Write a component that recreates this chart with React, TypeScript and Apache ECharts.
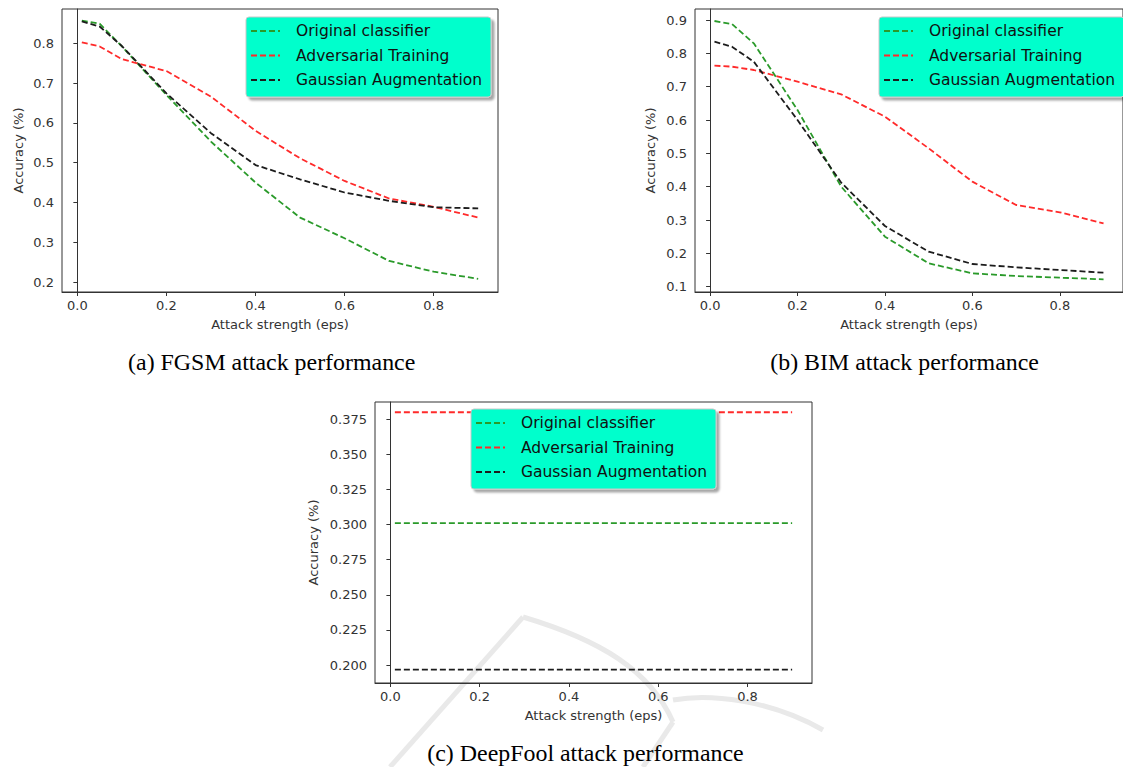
import React, { useEffect, useRef } from "react";
import * as echarts from "echarts";

const seriesNames = ["Original classifier", "Adversarial Training", "Gaussian Augmentation"];
const seriesColors = ["#2a9a2a", "#ff2a2a", "#1c1c1c"];

const epsValues = [0.01, 0.05, 0.1, 0.2, 0.3, 0.4, 0.5, 0.6, 0.7, 0.8, 0.9];

// (a) FGSM
const fgsmOriginal = [0.857, 0.849, 0.792, 0.67, 0.553, 0.45, 0.362, 0.31, 0.253, 0.226, 0.208];
const fgsmAdversarial = [0.802, 0.792, 0.76, 0.73, 0.666, 0.58, 0.511, 0.454, 0.41, 0.389, 0.362];
const fgsmGaussian = [0.855, 0.842, 0.793, 0.674, 0.574, 0.494, 0.458, 0.425, 0.404, 0.388, 0.385];

// (b) BIM
const bimOriginal = [0.897, 0.888, 0.83, 0.63, 0.4, 0.25, 0.17, 0.14, 0.132, 0.127, 0.122];
const bimAdversarial = [0.763, 0.76, 0.75, 0.715, 0.677, 0.61, 0.515, 0.415, 0.345, 0.323, 0.29];
const bimGaussian = [0.835, 0.82, 0.775, 0.6, 0.412, 0.282, 0.205, 0.168, 0.158, 0.15, 0.142];

// (c) DeepFool
const dfOriginal = [0.301, 0.301, 0.301, 0.301, 0.301, 0.301, 0.301, 0.301, 0.301, 0.301, 0.301];
const dfAdversarial = [0.38, 0.38, 0.38, 0.38, 0.38, 0.38, 0.38, 0.38, 0.38, 0.38, 0.38];
const dfGaussian = [0.1967, 0.1967, 0.1967, 0.1967, 0.1967, 0.1967, 0.1967, 0.1967, 0.1967, 0.1967, 0.1967];

const xTicks = [0, 0.2, 0.4, 0.6, 0.8];
const yTicksA = [0.2, 0.3, 0.4, 0.5, 0.6, 0.7, 0.8];
const yTicksB = [0.1, 0.2, 0.3, 0.4, 0.5, 0.6, 0.7, 0.8, 0.9];
const yTicksC = [0.2, 0.225, 0.25, 0.275, 0.3, 0.325, 0.35, 0.375];

const captions = ["(a) FGSM attack performance", "(b) BIM attack performance", "(c) DeepFool attack performance"];

const AXIS_COLOR = "#333333";
const LABEL_FONT = "DejaVu Sans";
const WATERMARK = "#e9e9e9";

function xAxisOf(gridIndex: number) {
  return {
    type: "value",
    gridIndex,
    min: -0.0345,
    max: 0.9445,
    name: "Attack strength (eps)",
    nameLocation: "middle",
    nameGap: 26,
    nameTextStyle: { fontFamily: LABEL_FONT, fontSize: 13, color: "#333" },
    axisLine: { show: true, lineStyle: { color: AXIS_COLOR, width: 1 } },
    axisTick: { show: true, inside: false, length: 4, customValues: xTicks, lineStyle: { color: AXIS_COLOR } },
    axisLabel: {
      customValues: xTicks,
      formatter: (v: number) => v.toFixed(1),
      fontFamily: LABEL_FONT,
      fontSize: 13,
      color: "#333",
      margin: 7,
    },
    splitLine: { show: false },
  };
}

function yAxisOf(gridIndex: number, min: number, max: number, ticks: number[], digits: number, nameGap: number) {
  return {
    type: "value",
    gridIndex,
    min,
    max,
    name: "Accuracy (%)",
    nameLocation: "middle",
    nameGap,
    nameTextStyle: { fontFamily: LABEL_FONT, fontSize: 13, color: "#333" },
    axisLine: { show: true, lineStyle: { color: AXIS_COLOR, width: 1 } },
    axisTick: { show: true, inside: false, length: 4, customValues: ticks, lineStyle: { color: AXIS_COLOR } },
    axisLabel: {
      customValues: ticks,
      formatter: (v: number) => v.toFixed(digits),
      fontFamily: LABEL_FONT,
      fontSize: 13,
      color: "#333",
      margin: 8,
    },
    splitLine: { show: false },
  };
}

function seriesOf(gridIndex: number, groups: number[][]) {
  return groups.map((vals, i) => ({
    type: "line",
    name: seriesNames[i],
    xAxisIndex: gridIndex,
    yAxisIndex: gridIndex,
    symbol: "none",
    showSymbol: false,
    data: epsValues.map((x, k) => [x, vals[k]]),
    lineStyle: { color: seriesColors[i], width: 1.8, type: [6, 3] },
    itemStyle: { color: seriesColors[i] },
    z: 3,
  }));
}

function legendAt(left: number, top: number) {
  return {
    orient: "vertical",
    left,
    top,
    data: seriesNames,
    backgroundColor: "#00FFCC",
    borderColor: "#c8c8c8",
    borderWidth: 1,
    borderRadius: 3,
    shadowColor: "rgba(0,0,0,0.35)",
    shadowOffsetX: 3,
    shadowOffsetY: 3,
    shadowBlur: 2,
    padding: [5, 9, 8, 4],
    itemGap: 6.5,
    itemWidth: 29,
    itemHeight: 14,
    selectedMode: false,
    itemStyle: { opacity: 0, borderWidth: 0 },
    lineStyle: { width: 2, type: [6, 3] },
    textStyle: { fontFamily: LABEL_FONT, fontSize: 15.5, color: "#111", padding: [0, 0, 0, 11], lineHeight: 18 },
  };
}

export default function App() {
  const ref = useRef<HTMLDivElement>(null);
  useEffect(() => {
    if (!ref.current) return;
    const chart = echarts.init(ref.current, undefined, { renderer: "svg" });
    const gridBase = { show: true, borderColor: AXIS_COLOR, borderWidth: 1, backgroundColor: "transparent", containLabel: false };
    const wm = { stroke: WATERMARK, lineWidth: 5, fill: null };
    chart.setOption({
      animation: false,
      backgroundColor: "#ffffff",
      grid: [
        { ...gridBase, left: 62, top: 9, width: 436, height: 283 },
        { ...gridBase, left: 695, top: 9, width: 435, height: 283 },
        { ...gridBase, left: 375, top: 402, width: 437, height: 281 },
      ],
      xAxis: [xAxisOf(0), xAxisOf(1), xAxisOf(2)],
      yAxis: [
        yAxisOf(0, 0.175, 0.886, yTicksA, 1, 37),
        yAxisOf(1, 0.084, 0.933, yTicksB, 1, 38),
        yAxisOf(2, 0.1872, 0.3873, yTicksC, 3, 55),
      ],
      legend: [legendAt(246, 17), legendAt(879, 17), legendAt(471, 409)],
      series: [
        ...seriesOf(0, [fgsmOriginal, fgsmAdversarial, fgsmGaussian]),
        ...seriesOf(1, [bimOriginal, bimAdversarial, bimGaussian]),
        ...seriesOf(2, [dfOriginal, dfAdversarial, dfGaussian]),
      ],
      graphic: [
        { type: "line", silent: true, z: -10, shape: { x1: 390, y1: 767, x2: 523, y2: 617 }, style: wm },
        {
          type: "bezierCurve",
          silent: true,
          z: -10,
          shape: { x1: 523, y1: 617, cpx1: 600, cpy1: 640, cpx2: 650, cpy2: 670, x2: 673, y2: 722 },
          style: wm,
        },
        { type: "line", silent: true, z: -10, shape: { x1: 673, y1: 722, x2: 643, y2: 767 }, style: wm },
        {
          type: "bezierCurve",
          silent: true,
          z: -10,
          shape: { x1: 673, y1: 700, cpx1: 710, cpy1: 693, cpx2: 770, cpy2: 700, x2: 823, y2: 730 },
          style: wm,
        },
        {
          type: "text",
          x: 271.7,
          y: 362,
          style: { text: captions[0], font: "23.9px 'Liberation Serif'", fill: "#000", textAlign: "center", textVerticalAlign: "middle" },
        },
        {
          type: "text",
          x: 904.6,
          y: 362,
          style: { text: captions[1], font: "23.9px 'Liberation Serif'", fill: "#000", textAlign: "center", textVerticalAlign: "middle" },
        },
        {
          type: "text",
          x: 585.5,
          y: 753,
          z: 10,
          style: { text: captions[2], font: "23.9px 'Liberation Serif'", fill: "#000", textAlign: "center", textVerticalAlign: "middle" },
        },
      ],
    });
    return () => chart.dispose();
  }, []);
  return <div ref={ref} style={{ position: "absolute", left: 0, top: 0, width: 1123, height: 767 }} />;
}
